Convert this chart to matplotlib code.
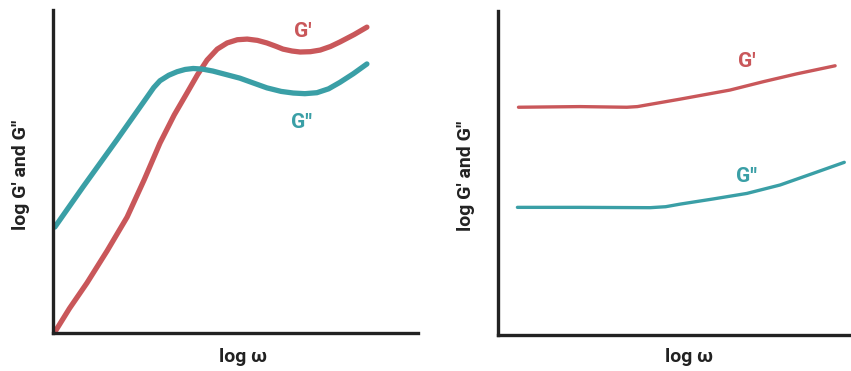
import matplotlib.pyplot as plt

plt.rcParams['font.family'] = ['Roboto', 'DejaVu Sans']

RED = '#c9575a'
TEAL = '#3a9fa6'
AXC = '#222222'

# left panel: G' crosses G'' (arbitrary units, 0-100)
left_gp_x = [0.5, 4.5, 9.3, 14.8, 20.3, 25.0, 29.3, 33.2, 36.7, 39.6, 42.2, 45.0, 47.7, 50.5, 53.2, 56.0, 58.6, 61.0, 63.0, 65.5, 67.7, 70.5, 73.2, 76.0, 78.6, 82.5, 86.0]
left_gp_y = [0.3, 7.6, 15.5, 25.4, 35.9, 47.5, 58.8, 67.5, 74.3, 80.0, 84.5, 87.9, 89.8, 90.8, 91.0, 90.6, 89.8, 88.8, 87.9, 87.3, 87.0, 87.1, 87.6, 88.7, 90.1, 92.4, 94.7]
left_gpp_x = [0.5, 8.2, 17.5, 25.8, 27.6, 29.3, 31.7, 34.0, 36.2, 38.4, 41.0, 43.8, 51.2, 58.6, 62.5, 65.8, 69.0, 72.3, 75.5, 78.6, 82.3, 86.0]
left_gpp_y = [32.8, 45.2, 59.8, 73.1, 76.0, 78.1, 79.8, 80.9, 81.6, 81.9, 81.7, 81.1, 78.9, 75.9, 74.8, 74.3, 74.1, 74.4, 75.6, 77.6, 80.3, 83.3]

# right panel: G' above G'' everywhere
right_gp_x = [5.8, 23.2, 36.5, 39.5, 42.1, 51.6, 65.7, 75.2, 84.6, 95.5]
right_gp_y = [70.3, 70.5, 70.3, 70.5, 71.0, 72.8, 75.6, 78.2, 80.6, 83.1]
right_gpp_x = [5.5, 23.2, 43.1, 47.5, 51.6, 61.0, 70.5, 79.9, 89.3, 98.1]
right_gpp_y = [39.4, 39.4, 39.3, 39.6, 40.4, 42.0, 43.7, 46.3, 49.9, 53.3]

fig = plt.figure(figsize=(8.51, 3.71), dpi=100)
ax1 = fig.add_axes([0.0623, 0.1024, 0.4289, 0.8706])
ax2 = fig.add_axes([0.5852, 0.0970, 0.4148, 0.8733])

for ax in (ax1, ax2):
    ax.set_xlim(0, 100)
    ax.set_ylim(0, 100)
    ax.set_xticks([])
    ax.set_yticks([])
    ax.spines['top'].set_visible(False)
    ax.spines['right'].set_visible(False)
    for s in ('left', 'bottom'):
        ax.spines[s].set_linewidth(2.4)
        ax.spines[s].set_color(AXC)
    ax.set_xlabel('log ω', fontsize=14, fontweight='bold', color=AXC)
    ax.set_ylabel("log G' and G''", fontsize=14, fontweight='bold', color=AXC)

ax1.xaxis.set_label_coords(0.52, -0.045)
ax1.yaxis.set_label_coords(-0.063, 0.49)
ax2.xaxis.set_label_coords(0.54, -0.040)
ax2.yaxis.set_label_coords(-0.065, 0.49)

kw = dict(solid_capstyle='round', solid_joinstyle='round', clip_on=False)
ax1.plot(left_gp_x, left_gp_y, color=RED, lw=3.8, **kw)
ax1.plot(left_gpp_x, left_gpp_y, color=TEAL, lw=3.8, **kw)
ax2.plot(right_gp_x, right_gp_y, color=RED, lw=2.4, **kw)
ax2.plot(right_gpp_x, right_gpp_y, color=TEAL, lw=2.4, **kw)

tkw = dict(fontsize=15, fontweight='bold', ha='center', va='center')
ax1.text(68.5, 93.3, "G'", color=RED, **tkw)
ax1.text(68.2, 65.3, "G''", color=TEAL, **tkw)
ax2.text(70.5, 84.3, "G'", color=RED, **tkw)
ax2.text(70.5, 48.8, "G''", color=TEAL, **tkw)

fig.savefig('out.png', dpi=100)
